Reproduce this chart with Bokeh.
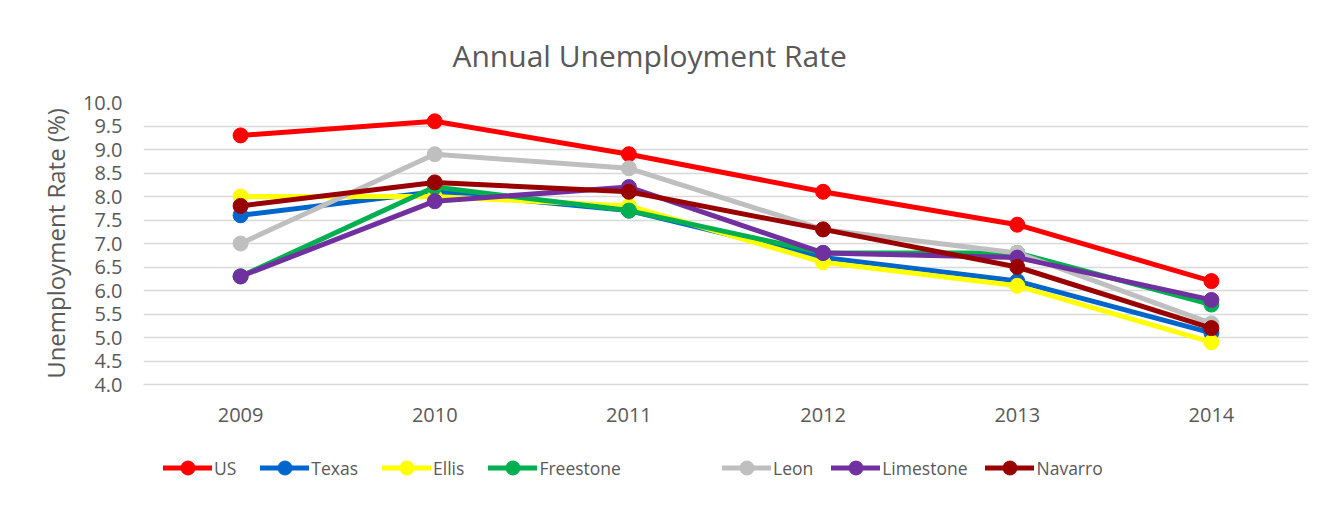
from bokeh.plotting import figure
from bokeh.layouts import column
from bokeh.models import (Range1d, FactorRange, SingleIntervalTicker, NumeralTickFormatter,
                          Legend, LegendItem, ColumnDataSource)
from bokeh.embed import file_html
from bokeh.resources import INLINE

years = ["2009", "2010", "2011", "2012", "2013", "2014"]
series_names = ["US", "Texas", "Ellis", "Freestone", "Leon", "Limestone", "Navarro"]
us = [9.3, 9.6, 8.9, 8.1, 7.4, 6.2]
texas = [7.6, 8.1, 7.7, 6.7, 6.2, 5.1]
ellis = [8.0, 8.0, 7.8, 6.6, 6.1, 4.9]
freestone = [6.3, 8.2, 7.7, 6.8, 6.8, 5.7]
leon = [7.0, 8.9, 8.6, 7.3, 6.8, 5.3]
limestone = [6.3, 7.9, 8.2, 6.8, 6.7, 5.8]
navarro = [7.8, 8.3, 8.1, 7.3, 6.5, 5.2]
colors = ["#FF0000", "#0066CC", "#FFFF00", "#00B050", "#BFBFBF", "#7030A0", "#990000"]

values = [us, texas, ellis, freestone, leon, limestone, navarro]

FONT = "Open Sans"
TXT = "#595959"
W = 1327

xr = FactorRange(*years)
p = figure(width=W, height=440, x_range=xr, y_range=Range1d(4, 10),
           title="Annual Unemployment Rate",
           output_backend="svg", toolbar_location=None,
           min_border_left=143, min_border_right=19, min_border_top=102, min_border_bottom=56)
p.outline_line_color = None
p.background_fill_color = "white"
p.border_fill_color = "white"

p.title.align = "left"
p.title.offset = 309
p.title.standoff = 54
p.title.text_font = FONT
p.title.text_font_size = "30px"
p.title.text_font_style = "normal"
p.title.text_color = TXT

# grid
p.xgrid.visible = False
p.ygrid.ticker = SingleIntervalTicker(interval=0.5)
p.ygrid.grid_line_color = "#D9D9D9"
p.ygrid.grid_line_width = 1.3

# y axis
p.yaxis.ticker = SingleIntervalTicker(interval=0.5)
p.yaxis.formatter = NumeralTickFormatter(format="0.0")
p.yaxis.axis_line_color = None
p.yaxis.major_tick_line_color = None
p.yaxis.minor_tick_line_color = None
p.yaxis.major_tick_out = 0
p.yaxis.major_label_standoff = 17
p.yaxis.major_label_text_font = FONT
p.yaxis.major_label_text_font_size = "20px"
p.yaxis.major_label_text_color = TXT
p.yaxis.axis_label = "Unemployment Rate (%)"
p.yaxis.axis_label_text_font = FONT
p.yaxis.axis_label_text_font_size = "24px"
p.yaxis.axis_label_text_font_style = "normal"
p.yaxis.axis_label_text_color = TXT
p.yaxis.axis_label_standoff = 8

# x axis
p.xaxis.axis_line_color = "#D9D9D9"
p.xaxis.axis_line_width = 1.3
p.xaxis.major_tick_line_color = None
p.xaxis.minor_tick_line_color = None
p.xaxis.major_tick_out = 0
p.xaxis.major_label_standoff = 23
p.xaxis.major_label_text_font = FONT
p.xaxis.major_label_text_font_size = "20px"
p.xaxis.major_label_text_color = TXT

sources = []
for vals, col in zip(values, colors):
    src = ColumnDataSource(dict(x=years, y=vals))
    sources.append(src)
    p.line("x", "y", source=src, line_color=col, line_width=5,
           line_cap="round", line_join="round")
    p.scatter("x", "y", source=src, size=15, fill_color=col, line_color=col)

# legend strip below the chart (same series, y-range chosen so only the legend shows)
lg = figure(width=W, height=65, x_range=xr, y_range=Range1d(100, 101),
            output_backend="svg", toolbar_location=None,
            min_border_left=143, min_border_right=19, min_border_top=0, min_border_bottom=0)
lg.axis.visible = False
lg.grid.visible = False
lg.outline_line_color = None
lg.border_fill_color = "white"
lg.background_fill_color = "white"

items = []
for name, src, col in zip(series_names, sources, colors):
    ln = lg.line("x", "y", source=src, line_color=col, line_width=5, line_cap="round")
    sc = lg.scatter("x", "y", source=src, size=15, fill_color=col, line_color=col)
    items.append(LegendItem(label=name, renderers=[ln, sc]))

def make_legend(its, x, spacing):
    return Legend(items=its, orientation="horizontal", location=(x, 20),
                  glyph_width=49, glyph_height=35, label_standoff=2, spacing=spacing,
                  padding=0, margin=0, border_line_color=None, background_fill_alpha=0,
                  label_text_font=FONT, label_text_font_size="17.5px", label_text_color=TXT)

lg.add_layout(make_legend(items[:4], 20, 24), "center")
lg.add_layout(make_legend(items[4:], 579, 18), "center")

layout = column(p, lg, spacing=0)
open("out.html", "w").write(file_html(layout, INLINE))
